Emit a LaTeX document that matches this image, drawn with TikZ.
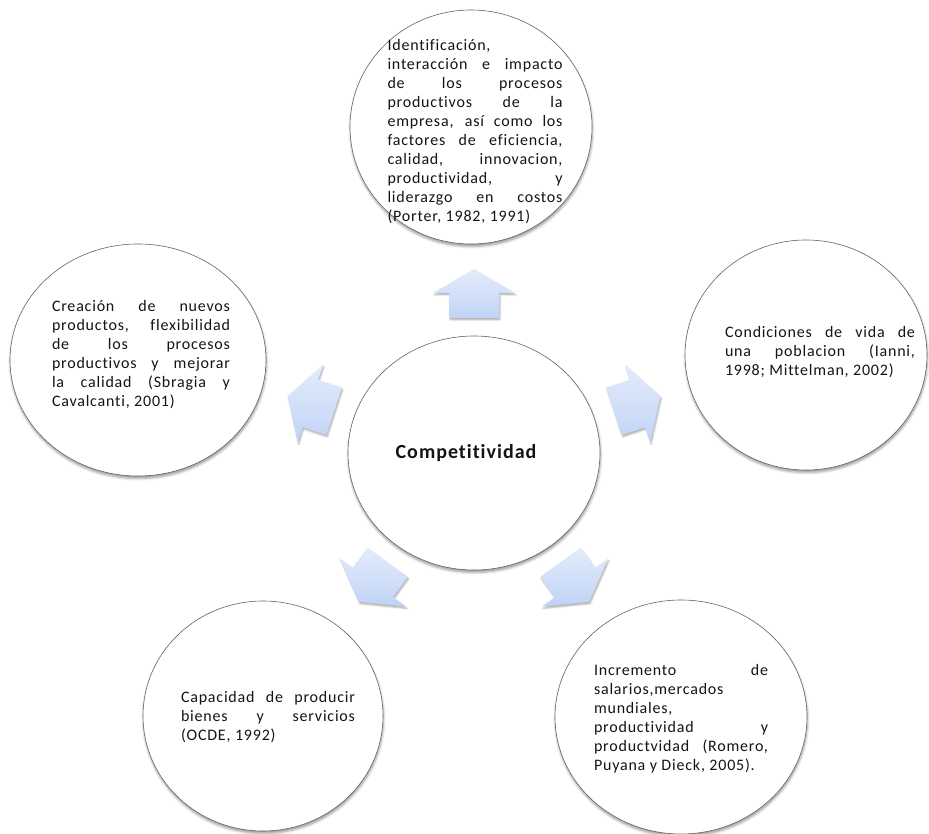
\documentclass[tikz,border=0pt]{standalone}
\usepackage{fontspec}
\setmainfont{Carlito}
\newfontfamily\bodyfont[LetterSpace=5,Ligatures=NoCommon]{Carlito}
\newfontfamily\boldfont[LetterSpace=5,Ligatures=NoCommon]{Carlito Bold}
\usetikzlibrary{calc,shapes.geometric,shadows.blur}
\hbadness=10000
\hfuzz=6pt
\definecolor{arrtop}{RGB}{228,236,252}
\definecolor{arrbot}{RGB}{192,211,246}
\definecolor{rimgray}{RGB}{100,100,100}
\definecolor{txtcol}{RGB}{20,20,20}
\tikzset{
  bubble/.style={ellipse, draw=rimgray, line width=0.6pt, fill=white, inner sep=0pt, outer sep=0pt,
    blur shadow={shadow xshift=0.5pt, shadow yshift=-2.5pt, shadow blur radius=2.5pt, shadow opacity=40}},
  bubbletext/.style={inner sep=0pt, align=justify, text=txtcol,
    font=\bodyfont\fontsize{16}{19}\selectfont},
  blockarrow/.style={top color=arrtop, bottom color=arrbot, draw=none,
    blur shadow={shadow xshift=1pt, shadow yshift=-2pt, shadow blur radius=1.5pt, shadow opacity=30}}
}
\begin{document}
\begin{tikzpicture}[x=1pt,y=1pt]
\useasboundingbox (0,0) rectangle (929,833);
% circles
\node[bubble, minimum width=252pt, minimum height=234pt] (c) at (474,380) {};
\node[bubble, minimum width=242pt, minimum height=234pt] (t) at (471,706) {};
\node[bubble, minimum width=256pt, minimum height=232pt] (l) at (138,473) {};
\node[bubble, minimum width=242pt, minimum height=230pt] (r) at (806,478) {};
\node[bubble, minimum width=240pt, minimum height=230pt] (bl) at (263,117) {};
\node[bubble, minimum width=252pt, minimum height=234pt] (br) at (681,116) {};
% arrows
\foreach \a in {90,162,234,306,18}{
  \coordinate (m\a) at ($(c.center)+({172*cos(\a)},{160*sin(\a)})$);
  \path[blockarrow]
    ($(m\a)+(\a:-25pt)+(\a+90:25pt)$) -- ($(m\a)+(\a+90:25pt)$) --
    ($(m\a)+(\a+90:41pt)$) -- ($(m\a)+(\a:24pt)$) --
    ($(m\a)+(\a-90:41pt)$) -- ($(m\a)+(\a-90:25pt)$) --
    ($(m\a)+(\a:-25pt)+(\a-90:25pt)$) -- cycle;
}
% texts
\node[text=txtcol, font=\boldfont\fontsize{20}{24}\selectfont] (ct) at (466,380) {Competitividad};
\node[bubbletext, text width=175pt] (tt) at (475,701) {Identificación,\linebreak interacción e impacto\linebreak de los procesos\linebreak productivos de la\linebreak empresa, así como los\linebreak factores de eficiencia,\linebreak calidad, innovacion,\linebreak productividad, y\linebreak liderazgo en costos\linebreak (Porter, 1982, 1991)};
\node[bubbletext, text width=178pt] (lt) at (141,478) {Creación de nuevos\linebreak productos, flexibilidad\linebreak de los procesos\linebreak productivos y mejorar\linebreak la calidad (Sbragia y\linebreak Cavalcanti, 2001)};
\node[bubbletext, text width=190pt] (rt) at (820,481) {Condiciones de vida de\linebreak una poblacion (Ianni,\linebreak 1998; Mittelman, 2002)};
\node[bubbletext, text width=174pt] (blt) at (268,116) {Capacidad de producir\linebreak bienes y servicios\linebreak (OCDE, 1992)};
\node[bubbletext, text width=174pt] (brt) at (681,114) {Incremento de\linebreak salarios,mercados\linebreak mundiales,\linebreak productividad y\linebreak productvidad (Romero,\linebreak Puyana y Dieck, 2005).};
\end{tikzpicture}
\end{document}
